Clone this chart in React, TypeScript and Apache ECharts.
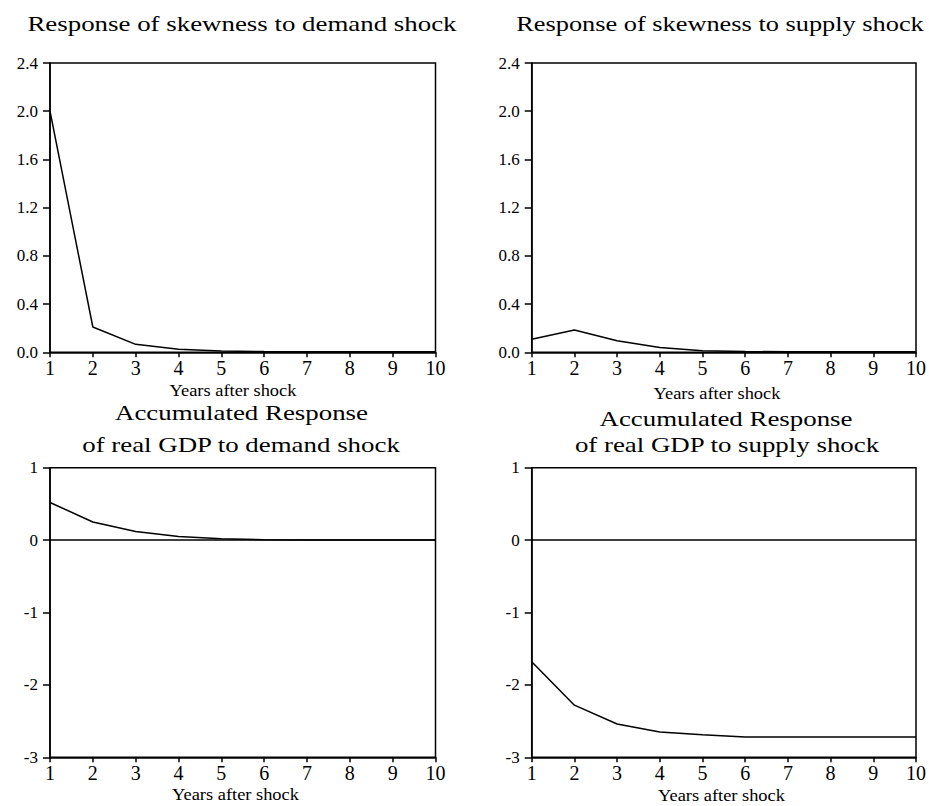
import React, { useEffect, useRef } from "react";
import * as echarts from "echarts";

const years = [1, 2, 3, 4, 5, 6, 7, 8, 9, 10];
const skewDemand = [2.0, 0.21, 0.066, 0.025, 0.01, 0.006, 0.005, 0.005, 0.005, 0.005];
const skewSupply = [0.108, 0.185, 0.096, 0.04, 0.012, 0.006, 0.005, 0.005, 0.005, 0.005];
const gdpDemand = [0.52, 0.25, 0.12, 0.05, 0.02, 0.005, 0.0, 0.0, 0.0, 0.0];
const gdpSupply = [-1.68, -2.28, -2.54, -2.65, -2.69, -2.72, -2.72, -2.72, -2.72, -2.72];

const titleTL = "Response of skewness to demand shock";
const titleTR = "Response of skewness to supply shock";
const titleBL1 = "Accumulated Response";
const titleBL2 = "of real GDP to demand shock";
const titleBR1 = "Accumulated Response";
const titleBR2 = "of real GDP to supply shock";
const xName = "Years after shock";

const FONT = '"Liberation Serif", "Times New Roman", Times, serif';

function txt(text: string, x: number, y: number, size: number, sx: number) {
  return {
    type: "text",
    x,
    y,
    scaleX: sx,
    silent: true,
    style: {
      text,
      fontSize: size,
      fontFamily: FONT,
      fill: "#000",
      align: "center",
      verticalAlign: "middle",
      textAlign: "center",
      textVerticalAlign: "middle",
    },
  };
}

export default function App() {
  const ref = useRef<HTMLDivElement>(null);
  useEffect(() => {
    if (!ref.current) return;
    const chart = echarts.init(ref.current, undefined, { renderer: "svg" });
    const grids = [
      { left: 50, top: 63, width: 385.5, height: 289.3 },
      { left: 531.7, top: 63, width: 385, height: 289.3 },
      { left: 50, top: 467.7, width: 385.5, height: 289.6 },
      { left: 531.7, top: 467.7, width: 385, height: 289.6 },
    ].map((g) => ({
      ...g,
      show: true,
      borderColor: "#000",
      borderWidth: 1.5,
      backgroundColor: "transparent",
      containLabel: false,
    }));
    const xAxes = [0, 1, 2, 3].map((i) => ({
      type: "value",
      gridIndex: i,
      min: 1,
      max: 10,
      interval: 1,
      axisLine: { show: true, onZero: false, lineStyle: { color: "#000", width: 1.5 } },
      axisTick: { show: true, inside: false, length: 5, lineStyle: { color: "#000", width: 1.5 } },
      axisLabel: { show: true, margin: 6, fontSize: 20, fontFamily: FONT, color: "#000" },
      splitLine: { show: false },
    }));
    const yAxes = [0, 1, 2, 3].map((i) => {
      const top = i < 2;
      return {
        type: "value",
        gridIndex: i,
        min: top ? 0 : -3,
        max: top ? 2.4 : 1,
        interval: top ? 0.4 : 1,
        axisLine: { show: true, onZero: false, lineStyle: { color: "#000", width: 1.5 } },
        axisTick: { show: true, inside: false, length: 7, lineStyle: { color: "#000", width: 1.5 } },
        axisLabel: {
          show: true,
          margin: 12,
          fontSize: 17,
          fontFamily: FONT,
          color: "#000",
          formatter: (v: number) => (top ? v.toFixed(1) : String(Math.round(v))),
        },
        splitLine: { show: false },
      };
    });
    const datasets = [skewDemand, skewSupply, gdpDemand, gdpSupply];
    const series = datasets.map((arr, i) => ({
      type: "line",
      xAxisIndex: i,
      yAxisIndex: i,
      data: years.map((y, k) => [y, arr[k]]),
      showSymbol: false,
      symbol: "none",
      lineStyle: { color: "#000", width: 1.5 },
      itemStyle: { color: "#000" },
      silent: true,
      markLine:
        i >= 2
          ? {
              silent: true,
              symbol: ["none", "none"],
              label: { show: false },
              lineStyle: { color: "#000", width: 1.5, type: "solid" },
              data: [{ yAxis: 0 }],
            }
          : undefined,
    }));
    chart.setOption({
      animation: false,
      backgroundColor: "#fff",
      grid: grids,
      xAxis: xAxes,
      yAxis: yAxes,
      series,
      graphic: [
        txt(titleTL, 242, 24, 21, 1.28),
        txt(titleTR, 720, 24, 21, 1.255),
        txt(titleBL1, 241.5, 413, 21, 1.28),
        txt(titleBL2, 241, 445, 21, 1.28),
        txt(titleBR1, 726, 419, 21, 1.28),
        txt(titleBR2, 727, 445, 21, 1.28),
        txt(xName, 233, 390.6, 16, 1.15),
        txt(xName, 717, 393.6, 16, 1.15),
        txt(xName, 235.5, 794.6, 16, 1.15),
        txt(xName, 721.5, 795.6, 16, 1.15),
      ],
    });
    return () => chart.dispose();
  }, []);
  return (
    <div
      ref={ref}
      style={{ position: "fixed", left: 0, top: 0, width: 929, height: 806, background: "#fff" }}
    />
  );
}
